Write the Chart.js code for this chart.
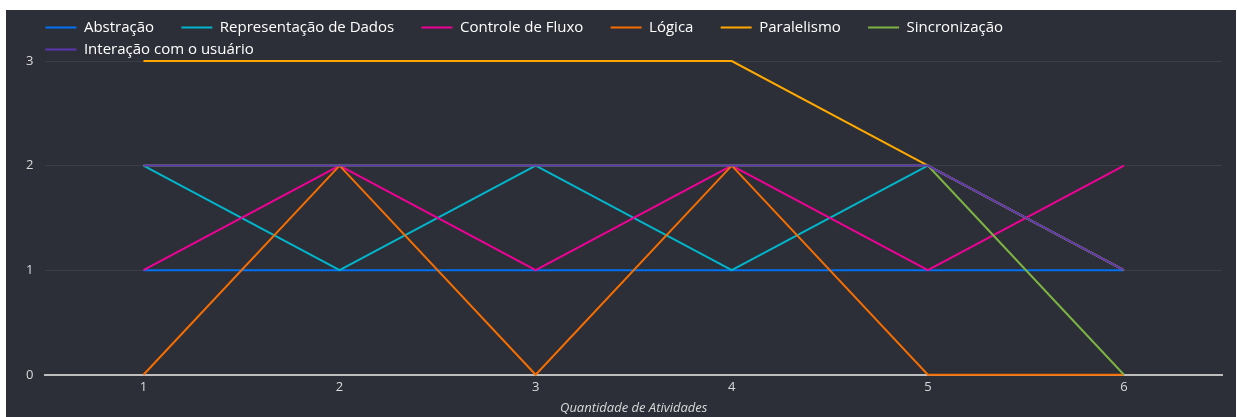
<!DOCTYPE html>
<html>
<head>
<meta charset="utf-8">
<script src="https://cdn.jsdelivr.net/npm/chart.js@4.4.1/dist/chart.umd.min.js"></script>
<style>
  html, body { margin: 0; padding: 0; background: #ffffff; }
  #wrap { position: absolute; left: 6px; top: 10px; width: 1230px; height: 407px; background: #2c2f38; }
</style>
</head>
<body>
<div id="wrap"><canvas id="activityChart"></canvas></div>
<script>
var xLabels = ['1', '2', '3', '4', '5', '6'];
var seriesNames = ['Abstração', 'Representação de Dados', 'Controle de Fluxo', 'Lógica', 'Paralelismo', 'Sincronização', 'Interação com o usuário'];
var abstracao = [1, 1, 1, 1, 1, 1];
var representacao = [2, 1, 2, 1, 2, 1];
var controleFluxo = [1, 2, 1, 2, 1, 2];
var logica = [0, 2, 0, 2, 0, 0];
var paralelismo = [3, 3, 3, 3, 2, 1];
var sincronizacao = [2, 2, 2, 2, 2, 0];
var interacao = [2, 2, 2, 2, 2, 1];

var seriesValues = [abstracao, representacao, controleFluxo, logica, paralelismo, sincronizacao, interacao];
var colors = ['#0072f0', '#00b6cb', '#f10096', '#f66d00', '#ffa800', '#7cb342', '#5e35b1'];

var datasets = seriesNames.map(function (name, i) {
    return {
        label: name,
        data: seriesValues[i],
        borderColor: colors[i],
        backgroundColor: colors[i],
        borderWidth: 2,
        pointRadius: 0,
        pointHoverRadius: 0,
        tension: 0,
        clip: 6,
        // later series on top, like the original
        order: seriesNames.length - i
    };
});

var textColor = '#dadada';
var font = "'Open Sans', sans-serif";

// legend starts in line with the plot area, not the canvas edge
var legendShift = {
    id: 'legendShift',
    afterLayout: function (chart) {
        chart.legend.left = chart.chartArea.left - 7;
    }
};

var ctx = document.getElementById('activityChart');

var chart = new Chart(ctx, {
    type: 'line',
    data: {
        labels: xLabels,
        datasets: datasets
    },
    plugins: [legendShift],
    options: {
        responsive: true,
        maintainAspectRatio: false,
        animation: false,
        layout: {
            padding: { left: 8, right: 14, top: 3, bottom: 0 }
        },
        plugins: {
            tooltip: { enabled: false },
            legend: {
                position: 'top',
                align: 'start',
                maxHeight: 48,
                labels: {
                    color: '#ffffff',
                    font: { family: font, size: 15 },
                    usePointStyle: true,
                    pointStyle: 'line',
                    pointStyleWidth: 31,
                    padding: 7,
                    sort: function (a, b) { return a.datasetIndex - b.datasetIndex; },
                    generateLabels: function (chart) {
                        var items = Chart.defaults.plugins.legend.labels.generateLabels(chart);
                        items.forEach(function (item) {
                            item.text = item.text + '\u2003\u2005\u200a';
                        });
                        return items;
                    }
                }
            }
        },
        scales: {
            x: {
                type: 'category',
                offset: true,
                grid: { display: false, drawTicks: false },
                border: { display: true, color: '#bdbdbd', width: 2 },
                ticks: {
                    color: textColor,
                    font: { family: font, size: 13 },
                    padding: 5,
                    maxRotation: 0
                },
                title: {
                    display: true,
                    text: 'Quantidade de Atividades',
                    color: textColor,
                    font: { family: font, size: 13, style: 'italic' },
                    padding: { top: 0, bottom: 1 }
                }
            },
            y: {
                min: 0,
                max: 3,
                grid: {
                    color: function (c) { return c.tick && c.tick.value === 0 ? 'rgba(0,0,0,0)' : '#3b3e47'; },
                    lineWidth: 1,
                    drawTicks: false
                },
                border: { display: false },
                ticks: {
                    stepSize: 1,
                    color: textColor,
                    font: { family: font, size: 13 },
                    padding: 12
                }
            }
        }
    }
});
</script>
</body>
</html>
